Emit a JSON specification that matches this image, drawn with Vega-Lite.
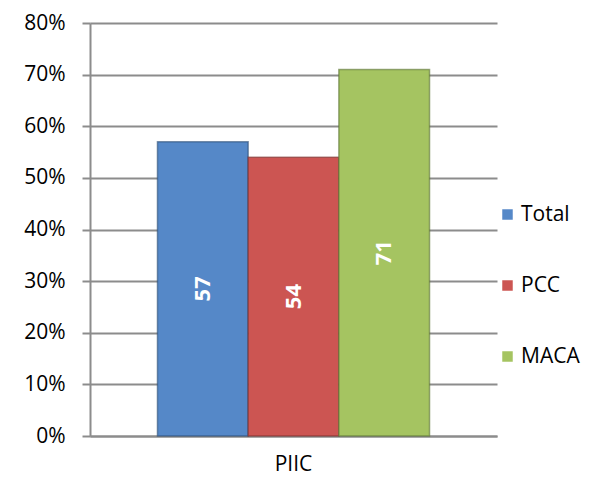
{
  "$schema": "https://vega.github.io/schema/vega-lite/v6.json",
  "width": 407,
  "height": 413,
  "autosize": "none",
  "padding": {"left": 90, "top": 23, "right": 94, "bottom": 43},
  "background": "white",
  "data": {
    "values": [
      {"group": "PIIC", "series": "Total", "value": 57},
      {"group": "PIIC", "series": "PCC", "value": 54},
      {"group": "PIIC", "series": "MACA", "value": 71}
    ]
  },
  "encoding": {
    "x": {
      "field": "group",
      "type": "nominal",
      "title": null,
      "scale": {"paddingInner": 0, "paddingOuter": 0.248},
      "axis": {
        "labelAngle": 0,
        "labelFont": "Open Sans",
        "labelFontSize": 21,
        "labelColor": "#000000",
        "labelPadding": 17,
        "ticks": false,
        "domainColor": "#8c8c8c",
        "domainWidth": 2
      }
    },
    "xOffset": {
      "field": "series",
      "type": "nominal",
      "sort": ["Total", "PCC", "MACA"],
      "scale": {"paddingInner": 0, "paddingOuter": 0}
    }
  },
  "layer": [
    {
      "mark": {"type": "bar", "strokeWidth": 1.5, "strokeOpacity": 0.6},
      "encoding": {
        "y": {
          "field": "value",
          "type": "quantitative",
          "title": null,
          "scale": {"domain": [0, 80], "nice": false},
          "axis": {
            "values": [0, 10, 20, 30, 40, 50, 60, 70, 80],
            "labelExpr": "datum.value + '%'",
            "labelFont": "Open Sans",
            "labelFontSize": 21,
            "labelColor": "#000000",
            "labelPadding": 17,
            "tickSize": 8,
            "tickColor": "#8c8c8c",
            "tickWidth": 2,
            "domainColor": "#8c8c8c",
            "domainWidth": 2,
            "grid": true,
            "gridColor": "#8c8c8c",
            "gridWidth": 2
          }
        },
        "color": {
          "field": "series",
          "type": "nominal",
          "sort": ["Total", "PCC", "MACA"],
          "scale": {
            "domain": ["Total", "PCC", "MACA"],
            "range": ["#5588c8", "#cc5552", "#a5c461"]
          },
          "legend": {
            "title": null,
            "orient": "none",
            "legendX": 407,
            "legendY": 181,
            "symbolType": "square",
            "symbolSize": 110,
            "symbolStrokeWidth": 0,
            "labelFont": "Open Sans",
            "labelFontSize": 21,
            "labelColor": "#000000",
            "labelOffset": 3,
            "rowPadding": 49
          }
        },
        "stroke": {
          "field": "series",
          "type": "nominal",
          "scale": {
            "domain": ["Total", "PCC", "MACA"],
            "range": ["#2c4d74", "#7a2f2d", "#5a7233"]
          },
          "legend": null
        }
      }
    },
    {
      "transform": [{"calculate": "datum.value / 2", "as": "mid"}],
      "mark": {
        "type": "text",
        "angle": 270,
        "color": "#ffffff",
        "font": "Open Sans",
        "fontSize": 22,
        "fontWeight": "bold",
        "align": "center",
        "baseline": "middle"
      },
      "encoding": {
        "y": {"field": "mid", "type": "quantitative", "scale": {"domain": [0, 80], "nice": false}},
        "text": {"field": "value", "type": "quantitative"}
      }
    }
  ],
  "config": {
    "view": {"stroke": null}
  }
}
